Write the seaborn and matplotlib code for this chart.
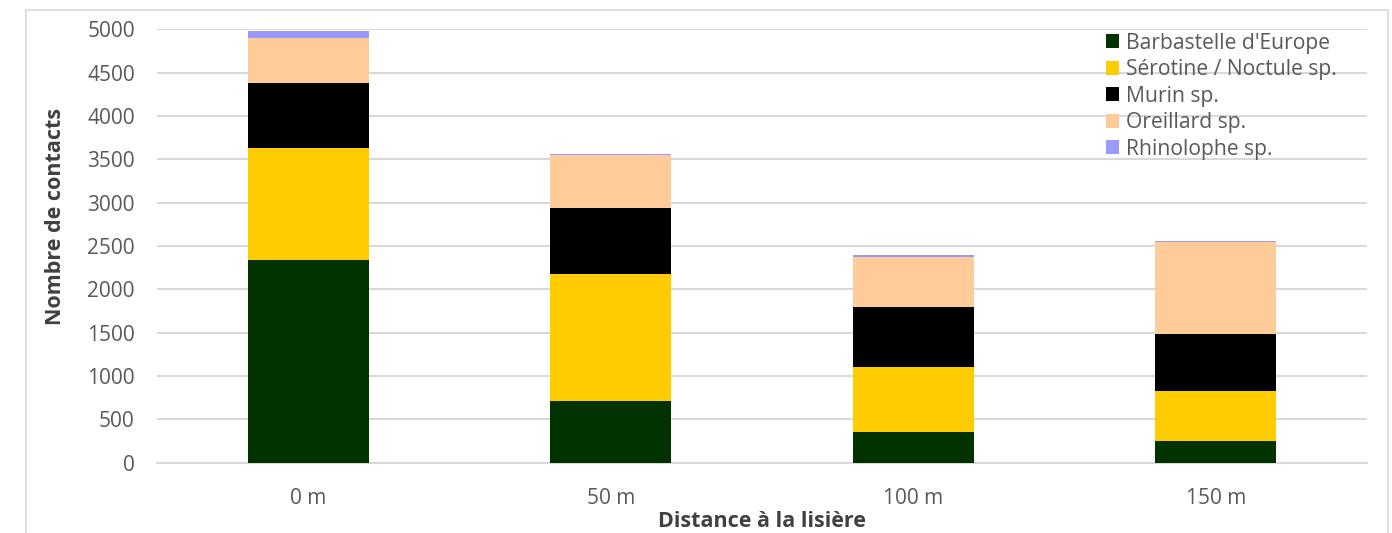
import matplotlib
matplotlib.use("Agg")
import matplotlib.pyplot as plt
from matplotlib.patches import Patch, Rectangle
import numpy as np
import pandas as pd
import seaborn as sns

# Nombre de contacts par groupe d'espèces selon la distance à la lisière
distances = ["0 m", "50 m", "100 m", "150 m"]
especes = ["Barbastelle d'Europe", "Sérotine / Noctule sp.", "Murin sp.",
           "Oreillard sp.", "Rhinolophe sp."]
barbastelle = [2340, 710, 355, 250]
serotine = [1290, 1470, 750, 580]
murin = [750, 760, 695, 650]
oreillard = [525, 610, 575, 1060]
rhinolophe = [75, 10, 15, 12]
couleurs = ["#003300", "#FFCC00", "#000000", "#FFCC99", "#9999FF"]

series = [barbastelle, serotine, murin, oreillard, rhinolophe]
cumul = np.cumsum(np.array(series), axis=0)

sns.set_theme(style="white")
plt.rcParams["font.family"] = ["Open Sans", "DejaVu Sans"]

fig = plt.figure(figsize=(13.92, 5.33), dpi=100)
ax = fig.add_axes([157 / 1392, 1 - 462.6 / 533, 1210 / 1392, 433.3 / 533])

# Stacked bars: draw the cumulative totals from the top layer down
for i in range(len(especes) - 1, -1, -1):
    df = pd.DataFrame({"distance": distances, "valeur": cumul[i]})
    sns.barplot(data=df, x="distance", y="valeur", color=couleurs[i],
                width=0.4, saturation=1, linewidth=0, ax=ax, zorder=3)

ax.set_ylim(0, 5000)
ax.set_yticks(np.arange(0, 5001, 500))
ax.set_xlim(-0.5, 3.5)
ax.yaxis.grid(True, color="#d9d9d9", linewidth=1.5, zorder=0)
ax.set_axisbelow(True)
for s in ["top", "right", "left"]:
    ax.spines[s].set_visible(False)
ax.spines["bottom"].set_color("#d9d9d9")
ax.spines["bottom"].set_linewidth(1.5)

ax.tick_params(axis="y", length=0, pad=16, labelsize=15, labelcolor="#595959")
ax.tick_params(axis="x", length=0, pad=18, labelsize=15, labelcolor="#595959")

ax.set_xlabel("Distance à la lisière", fontsize=15.5, fontweight="bold",
              color="#404040", labelpad=2)
ax.set_ylabel("Nombre de contacts", fontsize=15.5, fontweight="bold",
              color="#404040")
ax.yaxis.set_label_coords(-0.075, 0.569)

handles = [Patch(facecolor=c, edgecolor="none") for c in couleurs]
leg = ax.legend(handles, especes, loc="upper left",
                bbox_to_anchor=(1095 / 1392, 1 - 22 / 533),
                bbox_transform=fig.transFigure, frameon=False,
                fontsize=15.2, handlelength=0.65, handleheight=0.65,
                handletextpad=0.3, labelspacing=0.26, borderpad=0)
for t in leg.get_texts():
    t.set_color("#595959")

# Thin frame around the chart area
fig.patches.append(Rectangle((26 / 1392, -0.05), (1388 - 26) / 1392, 1.05 - 10 / 533,
                             transform=fig.transFigure, fill=False,
                             edgecolor="#d9d9d9", linewidth=1.2))

fig.savefig("out.png", dpi=100, facecolor="white")
